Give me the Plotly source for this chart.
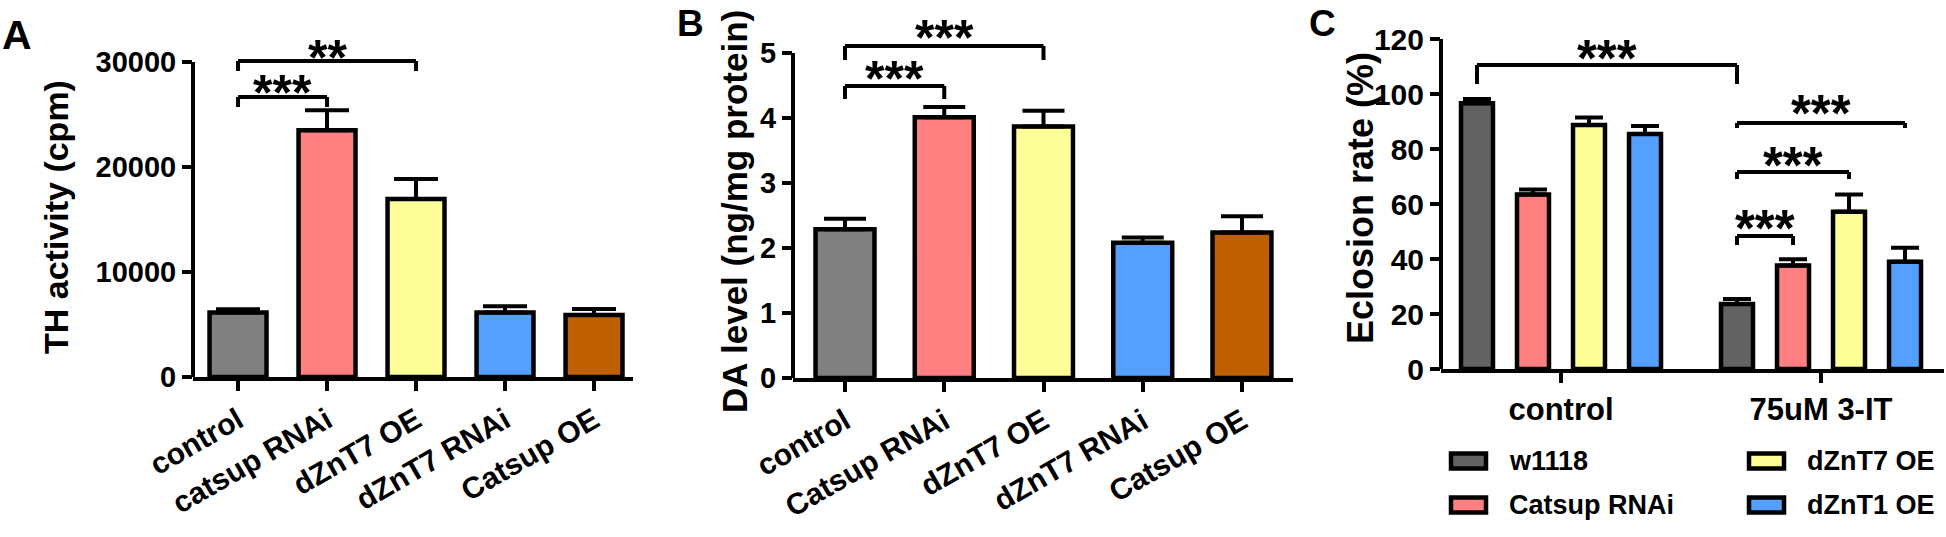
import plotly.graph_objects as go

W, H = 1946, 537

# ---------------- data ----------------
# Panel A: TH activity (cpm)
a_categories = ["control", "catsup RNAi", "dZnT7 OE", "dZnT7 RNAi", "Catsup OE"]
a_values = [6150, 23500, 16950, 6150, 5900]
a_errors = [300, 1900, 1900, 600, 580]
a_ticks = [0, 10000, 20000, 30000]

# Panel B: DA level (ng/mg protein)
b_categories = ["control", "Catsup RNAi", "dZnT7 OE", "dZnT7 RNAi", "Catsup OE"]
b_values = [2.29, 4.01, 3.87, 2.08, 2.24]
b_errors = [0.16, 0.16, 0.24, 0.08, 0.25]
b_ticks = [0, 1, 2, 3, 4, 5]

# Panel C: Eclosion rate (%)
c_groups = ["control", "75uM 3-IT"]
c_series = ["w1118", "Catsup RNAi", "dZnT7 OE", "dZnT1 OE"]
c_w1118 = [96.6, 23.6]
c_w1118_err = [1.6, 1.9]
c_catsup_rnai = [63.5, 37.6]
c_catsup_rnai_err = [1.8, 2.3]
c_dznt7_oe = [88.7, 57.2]
c_dznt7_oe_err = [2.8, 6.3]
c_dznt1_oe = [85.5, 39.0]
c_dznt1_oe_err = [2.9, 5.1]
c_ticks = [0, 20, 40, 60, 80, 100, 120]

# significance labels: (index a, index b, label)
a_sig = [(0, 1, "***"), (0, 2, "**")]
b_sig = [(0, 1, "***"), (0, 2, "***")]
# panel C: ((group, series), (group, series), label)
c_sig = [((0, 0), (1, 0), "***"), ((1, 0), (1, 3), "***"),
         ((1, 0), (1, 2), "***"), ((1, 0), (1, 1), "***")]

# ---------------- styles / geometry ----------------
FONT = "Arial, 'Liberation Sans', Helvetica, sans-serif"
GRAY = "#808080"
GRAY_C = "#626262"
PINK = "#FF8080"
YELLOW = "#FFFF99"
BLUE = "#55A0FF"
BROWN = "#BF6000"
a_colors = [GRAY, PINK, YELLOW, BLUE, BROWN]
b_colors = [GRAY, PINK, YELLOW, BLUE, BROWN]
c_colors = [GRAY_C, PINK, YELLOW, BLUE]

OUTLINE = 4.5
AXW = 4


def px_x(p):
    return p / W


def px_y(p):
    return 1 - p / H


# panel geometry in pixels
A_X = (193, 633); A_XR = [-0.506, 4.438]; A_Y0 = 377; A_PPU = 315 / 30000; A_YTOP = 32500
B_X = (793, 1293); B_XR = [-0.524, 4.514]; B_Y0 = 378; B_PPU = 65.0; B_YTOP = 5.7
C_X = (1441, 1944); C_XR = [-0.4615, 1.473]; C_Y0 = 369; C_PPU = 330 / 120; C_YTOP = 120

C_SLOT = 0.2154
C_BAR_W = 0.123


def c_pos(g, k):
    return g + (k - 1.5) * C_SLOT


fig = go.Figure()

# Panel A bars
fig.add_trace(go.Bar(
    x=a_categories, y=a_values, width=0.64,
    marker=dict(color=a_colors, line=dict(color="black", width=OUTLINE)),
    error_y=dict(type="data", array=a_errors, arrayminus=[0] * len(a_errors),
                 symmetric=False, color="black", thickness=4, width=22),
    xaxis="x", yaxis="y", showlegend=False))

# Panel B bars
fig.add_trace(go.Bar(
    x=b_categories, y=b_values, width=0.594,
    marker=dict(color=b_colors, line=dict(color="black", width=OUTLINE)),
    error_y=dict(type="data", array=b_errors, arrayminus=[0] * len(b_errors),
                 symmetric=False, color="black", thickness=4, width=21),
    xaxis="x2", yaxis="y2", showlegend=False))

# Panel C grouped bars
c_vals = [c_w1118, c_catsup_rnai, c_dznt7_oe, c_dznt1_oe]
c_errs = [c_w1118_err, c_catsup_rnai_err, c_dznt7_oe_err, c_dznt1_oe_err]
for k, name in enumerate(c_series):
    fig.add_trace(go.Bar(
        x=c_groups, y=c_vals[k], name=name, width=C_BAR_W,
        offset=(k - 1.5) * C_SLOT - C_BAR_W / 2,
        marker=dict(color=c_colors[k], line=dict(color="black", width=OUTLINE)),
        error_y=dict(type="data", array=c_errs[k], arrayminus=[0, 0],
                     symmetric=False, color="black", thickness=4, width=14),
        xaxis="x3", yaxis="y3", showlegend=False))


def xaxis_cfg(dom, rng, angle, size):
    return dict(domain=[px_x(dom[0]), px_x(dom[1])], range=rng, type="category",
                showline=True, linecolor="black", linewidth=AXW, automargin=False,
                ticks="outside", ticklen=10, tickwidth=AXW, tickcolor="black",
                tickangle=angle, showgrid=False, zeroline=False,
                tickfont=dict(family=FONT, size=size, color="black", weight="bold"))


def yaxis_cfg(y0, ppu, top, ticks, size):
    return dict(domain=[px_y(y0), px_y(y0 - top * ppu)], range=[0, top],
                tickvals=ticks, ticktext=[str(t) for t in ticks], automargin=False,
                showline=False, ticks="outside", ticklen=10,
                tickwidth=AXW, tickcolor="black", showgrid=False, zeroline=False,
                tickfont=dict(family=FONT, size=size, color="black", weight="bold"))


fig.update_layout(
    width=W, height=H, autosize=False,
    margin=dict(l=0, r=0, t=0, b=0, pad=0, autoexpand=False),
    paper_bgcolor="white", plot_bgcolor="white", barmode="group", showlegend=False,
    xaxis=dict(xaxis_cfg(A_X, A_XR, -30, 30), anchor="y"),
    yaxis=dict(yaxis_cfg(A_Y0, A_PPU, A_YTOP, a_ticks, 29), anchor="x"),
    xaxis2=dict(xaxis_cfg(B_X, B_XR, -30, 30), anchor="y2"),
    yaxis2=dict(yaxis_cfg(B_Y0, B_PPU, B_YTOP, b_ticks, 29), anchor="x2"),
    xaxis3=dict(xaxis_cfg(C_X, C_XR, 0, 31), anchor="y3"),
    yaxis3=dict(yaxis_cfg(C_Y0, C_PPU, C_YTOP, c_ticks, 30), anchor="x3"),
)

shapes = []
annos = []

# y-axis lines (stop at the highest tick)
for xr, yr, top in [("x", "y", a_ticks[-1]), ("x2", "y2", b_ticks[-1]), ("x3", "y3", c_ticks[-1])]:
    shapes.append(dict(type="line", xref=xr + " domain", yref=yr, x0=0, x1=0, y0=0, y1=top,
                       line=dict(color="black", width=AXW)))


def bracket(xr, yr, x0, x1, ytop, yleg, label, ytext, size):
    ln = dict(color="black", width=4)
    shapes.append(dict(type="line", xref=xr, yref=yr, x0=x0, x1=x1, y0=ytop, y1=ytop, line=ln))
    shapes.append(dict(type="line", xref=xr, yref=yr, x0=x0, x1=x0, y0=ytop, y1=yleg, line=ln))
    shapes.append(dict(type="line", xref=xr, yref=yr, x0=x1, x1=x1, y0=ytop, y1=yleg, line=ln))
    annos.append(dict(xref=xr, yref=yr, x=(x0 + x1) / 2, y=ytext, text=label, showarrow=False,
                      xanchor="center", yanchor="middle", yshift=-0.22 * size,
                      font=dict(family=FONT, size=size, color="black", weight="bold")))


# bracket heights (pixels in the reference) -> values
def a_val(p):
    return (A_Y0 - p) / A_PPU


def b_val(p):
    return (B_Y0 - p) / B_PPU


def c_val(p):
    return (C_Y0 - p) / C_PPU


a_br = [(97, 107, 82), (61, 71, 47)]
for (i, j, lab), (pt, pl, ptx) in zip(a_sig, a_br):
    bracket("x", "y", i, j, a_val(pt), a_val(pl), lab, a_val(ptx), 50)

b_br = [(86, 99, 68), (46, 60, 27)]
for (i, j, lab), (pt, pl, ptx) in zip(b_sig, b_br):
    bracket("x2", "y2", i, j, b_val(pt), b_val(pl), lab, b_val(ptx), 50)

c_br = [(65, 84, 47), (123, 128, 102), (172, 179, 154), (236, 245, 217)]
for (p, q, lab), (pt, pl, ptx) in zip(c_sig, c_br):
    bracket("x3", "y3", c_pos(*p), c_pos(*q), c_val(pt), c_val(pl), lab, c_val(ptx), 51)

# axis titles
for txt, x, y, size in [("TH activity (cpm)", 56, 217, 34),
                        ("DA level (ng/mg protein)", 734, 212, 35),
                        ("Eclosion rate (%)", 1361, 198, 36)]:
    annos.append(dict(xref="paper", yref="paper", x=px_x(x), y=px_y(y), text=txt,
                      textangle=-90, showarrow=False, xanchor="center", yanchor="middle",
                      font=dict(family=FONT, size=size, color="black", weight="bold")))

# panel letters (anchored by the top of their text box)
for txt, x, y, size in [("A", 17, 10, 41), ("B", 690, 1, 37), ("C", 1322, 1, 37)]:
    annos.append(dict(xref="paper", yref="paper", x=px_x(x), y=px_y(y), text=txt,
                      showarrow=False, xanchor="center", yanchor="top",
                      font=dict(family=FONT, size=size, color="black", weight="bold")))

# legend for panel C (drawn manually)
leg_pos = [(1451, 461), (1451, 505), (1749, 461), (1749, 505)]
for k, name in enumerate(c_series):
    bx, by = leg_pos[k]
    shapes.append(dict(type="rect", xref="paper", yref="paper",
                       x0=px_x(bx), x1=px_x(bx + 35), y0=px_y(by - 7.5), y1=px_y(by + 7.5),
                       fillcolor=c_colors[k], line=dict(color="black", width=OUTLINE)))
    annos.append(dict(xref="paper", yref="paper", x=px_x(bx + 56), y=px_y(by), text=name,
                      showarrow=False, xanchor="left", yanchor="middle",
                      font=dict(family=FONT, size=27, color="black", weight="bold")))

fig.update_layout(shapes=shapes, annotations=annos)
fig.write_html(
    "out.html",
    config={"displayModeBar": False},
    post_script="document.body.style.margin='0';document.body.style.padding='0';"
                "document.documentElement.style.overflow='hidden';",
)
